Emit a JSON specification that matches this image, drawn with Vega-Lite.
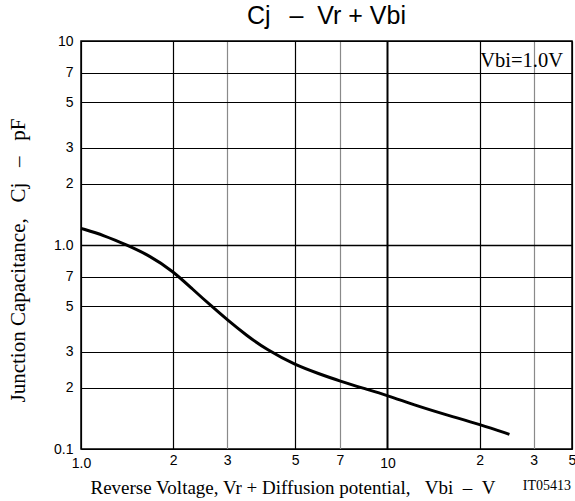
{
  "$schema": "https://vega.github.io/schema/vega-lite/v6.json",
  "width": 491,
  "height": 408,
  "autosize": {"type": "none"},
  "padding": {"left": 81, "top": 41, "right": 3, "bottom": 52},
  "background": "white",
  "config": {"view": {"stroke": "black", "strokeWidth": 1.5}},
  "title": {"text": "Cj\u00a0\u00a0\u2009–\u00a0\u00a0Vr + Vbi", "font": "Liberation Sans", "fontSize": 25, "fontWeight": "normal", "color": "black", "frame": "group", "anchor": "middle", "offset": 5},
  "datasets": {
    "curve": [
      {"V": 1.0, "C": 1.207},
      {"V": 1.19, "C": 1.115},
      {"V": 1.41, "C": 1.0},
      {"V": 1.68, "C": 0.885},
      {"V": 2.0, "C": 0.743},
      {"V": 2.31, "C": 0.608},
      {"V": 2.67, "C": 0.5},
      {"V": 3.0, "C": 0.43},
      {"V": 3.47, "C": 0.36},
      {"V": 4.03, "C": 0.307},
      {"V": 5.0, "C": 0.258},
      {"V": 5.97, "C": 0.234},
      {"V": 7.0, "C": 0.215},
      {"V": 8.38, "C": 0.198},
      {"V": 10.0, "C": 0.183},
      {"V": 12.5, "C": 0.1625},
      {"V": 15.95, "C": 0.1455},
      {"V": 20.0, "C": 0.132},
      {"V": 25.0, "C": 0.118}
    ],
    "notes": [
      {"label": "Vbi=1.0V"},
      {"label": "IT05413"}
    ]
  },
  "layer": [
    {
      "data": {"name": "curve"},
      "mark": {"type": "line", "color": "black", "strokeWidth": 3, "interpolate": "basis"},
      "encoding": {
        "x": {
          "field": "V", "type": "quantitative",
          "scale": {"type": "log", "domain": [1, 40], "nice": false},
          "axis": {
            "values": [1, 2, 3, 5, 7, 10, 20, 30, 40],
            "labelExpr": "datum.value==1?'1.0':datum.value==20?'2':datum.value==30?'3':datum.value==40?'5':''+datum.value",
            "ticks": false, "domain": false,
            "labelFont": "Liberation Sans", "labelFontSize": 14, "labelColor": "black",
            "labelPadding": {"condition": {"test": "datum.value==1||datum.value==10", "value": 7}, "value": 4},
            "labelFlush": false, "labelOverlap": false,
            "grid": true,
            "gridColor": {"condition": {"test": "datum.value==3||datum.value==7||datum.value==30", "value": "#8a8a8a"}, "value": "black"},
            "gridWidth": {"condition": {"test": "datum.value==10", "value": 2}, "value": 1.2},
            "gridOpacity": 1,
            "title": "Reverse Voltage, Vr + Diffusion potential,\u00a0\u00a0\u00a0Vbi\u00a0\u00a0–\u00a0\u00a0V",
            "titleFont": "Liberation Serif", "titleFontSize": 19, "titleFontWeight": "normal", "titleColor": "black",
            "titleX": 9, "titleY": 38, "titleAlign": "left", "titleBaseline": "middle"
          }
        },
        "y": {
          "field": "C", "type": "quantitative",
          "scale": {"type": "log", "domain": [0.1, 10], "nice": false},
          "axis": {
            "values": [0.1, 0.2, 0.3, 0.5, 0.7, 1, 2, 3, 5, 7, 10],
            "labelExpr": "datum.value==1?'1.0':datum.value==0.1?'0.1':datum.value==10?'10':datum.value<1?''+round(datum.value*10):''+datum.value",
            "ticks": false, "domain": false,
            "labelFont": "Liberation Sans", "labelFontSize": 14, "labelColor": "black",
            "labelPadding": 8, "labelFlush": false, "labelOverlap": false,
            "grid": true, "gridColor": "black",
            "gridWidth": {"condition": {"test": "datum.value==1", "value": 1.6}, "value": 1.2},
            "gridOpacity": 1,
            "title": "Junction Capacitance,\u00a0\u00a0\u00a0Cj\u00a0\u00a0\u00a0–\u00a0\u00a0\u00a0pF",
            "titleFont": "Liberation Serif", "titleFontSize": 21, "titleFontWeight": "normal", "titleColor": "black",
            "titleX": -63, "titleY": 219, "titleAngle": -90, "titleAlign": "center", "titleBaseline": "middle"
          }
        }
      }
    },
    {
      "mark": {"type": "rect", "color": "white"},
      "encoding": {
        "x": {"datum": 19.6, "type": "quantitative"},
        "x2": {"datum": 38.5},
        "y": {"datum": 9.1, "type": "quantitative"},
        "y2": {"datum": 7.3}
      }
    },
    {
      "data": {"name": "notes"},
      "transform": [{"filter": "datum.label=='Vbi=1.0V'"}],
      "mark": {"type": "text", "font": "Liberation Serif", "fontSize": 20.5, "align": "right", "baseline": "alphabetic", "color": "black"},
      "encoding": {
        "x": {"datum": 37.4, "type": "quantitative"},
        "y": {"datum": 7.46, "type": "quantitative"},
        "text": {"field": "label"}
      }
    },
    {
      "data": {"name": "notes"},
      "transform": [{"filter": "datum.label=='IT05413'"}],
      "mark": {"type": "text", "font": "Liberation Serif", "fontSize": 14, "align": "right", "baseline": "alphabetic", "color": "black"},
      "encoding": {
        "x": {"datum": 39.7, "type": "quantitative"},
        "y": {"datum": 0.063, "type": "quantitative"},
        "text": {"field": "label"}
      }
    }
  ]
}
